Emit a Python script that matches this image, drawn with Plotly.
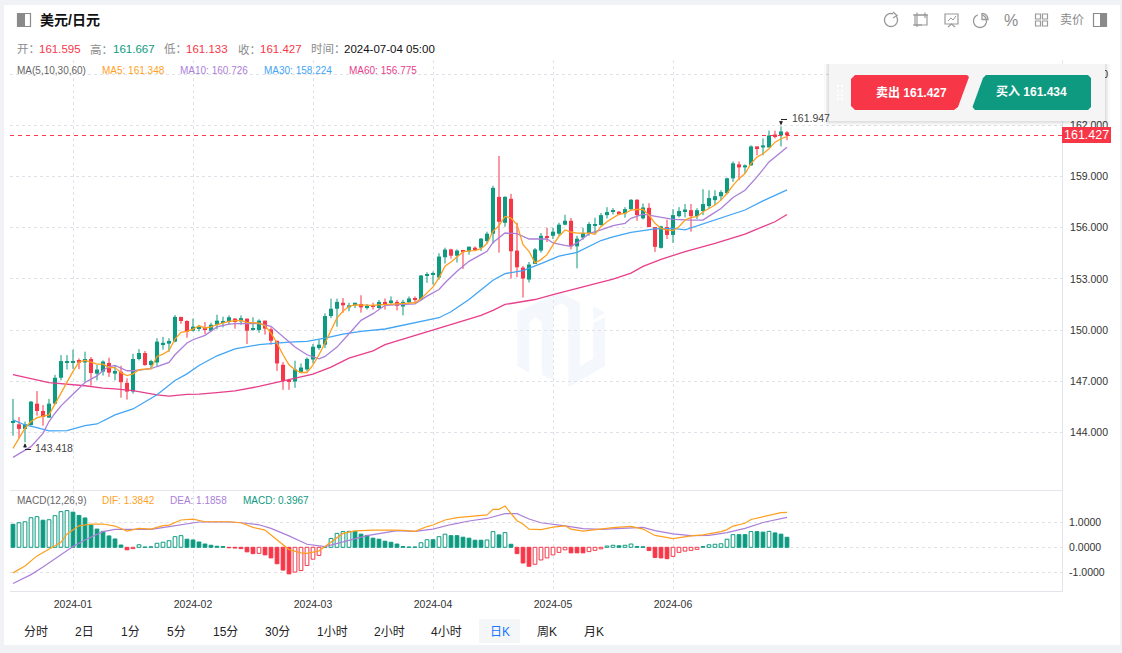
import math
import plotly.graph_objects as go

W, H = 1122, 653
RED = "#f73648"
GREEN = "#0d9a80"
ORANGE = "#ff9f1f"
PURPLE = "#ab7fd8"
BLUE = "#42a5f5"
PINK = "#e83e8c"
GRID = "#dfe2e8"
FONT = "Liberation Sans, Noto Sans CJK SC, sans-serif"

open_ = [144.57,144.47,144.2,144.43,145.68,145.25,144.86,145.68,147.2,148.1,
 148.1,148.24,148.1,148.3,147.44,147.56,148.07,147.44,147.56,146.9,
 146.39,148.3,148.65,147.95,148.1,149.18,149.2,149.32,150.77,150.53,
 149.96,150.1,150.1,149.96,150.31,150.45,150.47,150.67,150.51,150.67,
 150.04,150.0,150.55,150.04,149.37,147.96,147.06,146.98,147.49,147.69,
 148.27,148.94,149.14,150.82,151.25,151.6,151.33,151.45,151.53,151.29,
 151.45,151.29,151.65,151.62,151.65,151.38,151.62,151.85,151.77,153.19,
 153.27,153.08,154.27,154.73,154.36,154.66,154.62,154.83,154.83,155.22,
 155.65,157.81,156.29,157.7,154.66,153.66,152.96,153.88,154.66,155.5,
 155.53,155.65,156.18,156.41,154.91,155.42,155.69,156.14,156.16,156.74,
 156.94,156.94,156.84,157.09,157.64,156.55,157.17,156.04,154.82,156.04,
 155.58,156.68,156.96,157.03,156.68,156.98,157.27,157.62,157.85,158.03,
 158.9,159.72,159.54,159.66,160.77,160.71,160.71,161.47,161.41,161.595]
high = [145.96,144.9,144.63,145.84,146.42,145.6,145.96,147.37,148.53,148.53,
 148.85,148.34,148.73,148.42,147.95,148.22,148.38,147.95,147.9,147.17,
 148.61,148.88,148.77,148.26,149.52,149.6,149.52,150.88,150.77,150.57,
 150.67,150.3,150.47,150.43,150.9,150.78,150.86,150.7,150.86,150.67,
 150.75,150.63,150.55,150.16,149.37,148.12,147.14,148.2,148.04,148.39,
 149.18,149.43,150.98,151.84,151.84,151.88,151.6,151.6,152.04,151.53,
 151.6,151.76,151.85,151.97,151.77,151.77,151.97,151.97,153.23,153.39,
 153.43,154.5,154.83,154.77,154.73,154.7,154.89,154.91,155.4,155.77,
 158.46,160.21,157.85,157.99,156.29,153.76,153.99,154.81,155.69,156.0,
 156.0,156.29,156.76,156.57,155.53,156.0,156.33,156.59,156.86,157.21,
 157.15,156.98,157.21,157.68,157.68,157.42,157.44,156.04,156.12,156.47,
 157.09,157.21,157.39,157.39,157.15,158.26,158.2,158.2,158.2,158.94,
 159.89,159.89,159.72,160.83,160.77,161.24,161.7,161.7,161.947,161.667]
low = [143.8,143.65,143.418,144.39,144.98,144.39,144.86,145.64,147.05,147.68,
 147.72,147.7,146.97,146.74,147.05,147.33,147.25,147.05,146.03,145.92,
 146.27,148.22,147.9,147.77,147.9,148.85,148.73,149.28,150.37,149.55,
 149.92,149.92,149.76,149.92,150.04,150.16,150.31,150.08,150.31,149.18,
 149.96,149.84,149.73,149.14,147.6,146.49,146.49,146.61,147.47,147.57,
 148.04,148.84,148.94,150.7,150.2,151.02,151.1,151.29,151.02,151.2,
 151.2,151.25,151.2,151.5,151.15,150.86,151.58,151.62,151.73,152.77,
 152.67,152.96,153.9,154.19,153.96,153.58,154.42,154.64,154.64,155.1,
 155.07,154.54,156.06,153.02,153.1,151.91,152.79,153.88,154.54,155.16,
 155.34,155.53,156.14,154.73,153.62,155.3,155.53,155.63,156.12,156.55,
 156.78,156.74,156.59,157.03,156.41,156.49,156.04,154.58,154.78,155.34,
 155.11,156.61,156.61,155.77,156.51,156.74,157.13,157.33,157.62,157.97,
 158.69,158.79,159.19,159.62,160.25,160.25,160.71,161.24,160.77,161.133]
close = [144.61,144.2,144.47,145.8,145.25,144.9,145.68,147.2,148.18,148.15,
 148.15,148.08,148.3,147.48,147.68,148.15,147.5,147.6,146.94,146.39,
 148.3,148.65,147.95,148.18,149.32,149.24,149.36,150.77,150.53,149.9,
 150.2,150.14,150.05,150.31,150.55,150.49,150.75,150.47,150.7,149.96,
 150.08,150.55,150.08,149.37,148.04,147.0,146.98,147.69,147.8,148.31,
 149.02,149.14,150.82,151.25,151.65,151.45,151.45,151.6,151.33,151.41,
 151.37,151.65,151.54,151.73,151.42,151.65,151.85,151.81,153.2,153.23,
 153.31,154.31,154.72,154.36,154.66,154.62,154.89,154.75,155.36,155.65,
 158.34,156.35,157.81,154.62,153.68,153.02,153.84,154.73,155.53,155.44,
 155.77,156.18,156.41,154.91,155.36,155.69,156.22,156.2,156.74,156.92,
 156.98,156.78,157.09,157.64,156.74,157.19,156.04,154.88,156.08,155.58,
 156.74,156.98,157.07,156.68,157.03,157.39,157.74,157.85,158.09,158.9,
 159.78,159.54,159.66,160.77,160.67,160.83,161.41,161.37,161.65,161.427]

ma5_x = list(range(0,1))+list(range(2,5))+list(range(6,130))
ma5_val = [143.06,144.24,144.63,144.86,145.02,145.67,146.29,146.98,147.57,148.12,148.22,148.12,148.0,148.0,147.8,147.8,147.5,147.33,147.43,147.67,147.7,147.73,148.45,148.59,148.8,149.47,149.86,149.92,150.05,150.25,
 150.12,150.18,150.31,150.41,150.51,150.55,150.57,150.45,150.41,150.41,150.25,149.82,149.24,148.55,147.96,147.67,147.51,147.51,147.96,148.55,149.24,150.02,150.71,151.1,151.39,151.47,151.45,151.43,151.45,151.47,151.5,
 151.52,151.54,151.56,151.58,151.6,151.83,152.18,152.53,153.06,153.74,153.99,154.29,154.58,154.64,154.66,154.77,155.07,155.79,156.12,156.66,156.57,156.18,155.0,154.62,153.94,154.13,154.42,155.0,155.5,155.87,155.75,155.69,155.67,155.69,
 155.61,156.06,156.35,156.55,156.8,156.84,157.04,157.07,157.07,156.74,156.26,155.96,155.87,155.83,156.06,156.45,156.61,156.65,156.94,157.13,157.33,157.62,158.01,158.49,158.88,159.18,159.76,160.15,160.34,160.63,161.02,161.22,161.348]
ma10_x = [0,2,3,5,6,7,8,9,10,11,12,13,14,15,16,17,18,19,20,21,23,24,26,27,28,29,30,32,34,36,38,41,43,45,47,49,51,52,54,56,58,60,62,67,69,71,72,74,76,78,79,80,82,84,86,89,90,92,93,94,96,98,100,102,103,105,108,110,113,115,116,118,120,122,124,126,129]
ma10_val = [142.53,142.96,143.16,143.94,144.63,145.12,145.55,145.9,146.24,146.63,146.92,147.12,147.31,147.63,147.86,147.92,147.76,147.61,147.61,147.65,147.73,147.86,148.1,148.55,148.9,149.24,149.43,149.69,150.18,150.35,150.39,150.37,150.22,149.59,149.0,148.55,148.31,148.45,149.0,149.78,150.57,150.96,151.45,151.54,151.99,152.38,152.77,153.45,154.03,154.42,154.62,155.14,155.69,155.65,155.34,155.34,155.11,154.97,154.91,155.11,155.65,155.87,156.12,156.26,156.55,156.8,156.61,156.49,156.45,156.45,156.68,157.13,157.77,158.2,158.98,159.86,160.726]
ma30_x = [0,2,4,6,9,12,14,17,20,24,27,29,31,34,37,41,46,49,52,55,58,62,71,73,76,80,82,85,88,91,94,96,98,100,103,107,110,112,115,118,122,125,129]
ma30_val = [144.73,144.43,144.27,144.08,144.1,144.39,144.49,145.02,145.37,146.2,147.04,147.43,147.92,148.49,148.9,149.14,149.29,149.33,149.53,149.76,149.92,150.06,150.72,151.07,151.79,152.92,153.31,153.49,153.9,154.33,154.56,154.92,155.25,155.46,155.73,155.93,155.96,155.87,156.22,156.61,157.04,157.58,158.224]
ma60_x = [0,2,6,12,15,17,20,24,26,29,31,34,37,41,46,50,53,56,60,62,78,80,82,85,87,90,93,96,100,103,105,108,112,117,122,125,127,129]
ma60_val = [147.39,147.24,146.92,146.73,146.59,146.55,146.45,146.2,146.12,146.22,146.24,146.33,146.43,146.69,147.08,147.41,147.82,148.35,148.78,149.14,150.86,151.15,151.5,151.69,151.79,152.08,152.36,152.61,152.99,153.34,153.73,154.14,154.6,155.09,155.63,156.06,156.35,156.775]

macd_hist = [0.91,0.97,1.01,1.17,1.21,1.07,1.09,1.25,1.41,1.45,
 1.39,1.26,1.16,0.88,0.72,0.63,0.45,0.33,0.09,-0.1,
 -0.05,0.1,0.01,0.02,0.16,0.2,0.26,0.42,0.46,0.32,
 0.29,0.21,0.13,0.08,0.04,0.03,-0.02,-0.03,-0.05,-0.18,
 -0.25,-0.24,-0.3,-0.42,-0.65,-0.9,-1.05,-0.98,-0.92,-0.72,
 -0.47,-0.32,0.02,0.35,0.55,0.62,0.63,0.63,0.52,0.47,
 0.36,0.32,0.24,0.2,0.13,0.03,0.01,0.015,0.18,0.3,
 0.3,0.42,0.52,0.46,0.46,0.4,0.36,0.28,0.28,0.29,
 0.62,0.49,0.58,0.12,-0.25,-0.62,-0.75,-0.67,-0.5,-0.42,
 -0.3,-0.2,-0.1,-0.22,-0.22,-0.22,-0.17,-0.12,-0.06,0.05,
 0.08,0.06,0.08,0.13,0.03,0.02,-0.13,-0.4,-0.42,-0.45,
 -0.36,-0.2,-0.15,-0.12,-0.08,0.03,0.1,0.12,0.14,0.32,
 0.5,0.5,0.5,0.62,0.62,0.6,0.63,0.57,0.52,0.3967]
dif_x = [0,2,4,6,8,9,11,13,15,17,19,21,23,25,26,28,30,32,36,38,40,42,44,46,48,49,51,53,55,57,60,63,65,67,69,70,72,74,76,79,80,81,82,83,84,85,86,88,90,92,93,95,98,100,103,105,107,110,113,115,118,119,120,122,123,126,128,129]
dif_val = [-1.01,-0.74,-0.34,-0.08,0.2,0.53,0.85,0.92,0.92,0.84,0.64,0.75,0.72,0.86,0.88,1.08,1.11,1.01,1.01,0.97,0.79,0.68,0.3,-0.09,-0.22,-0.24,-0.14,0.21,0.55,0.65,0.68,0.68,0.67,0.63,0.82,0.88,1.08,1.17,1.22,1.28,1.5,1.5,1.63,1.36,1.05,0.92,0.72,0.7,0.8,0.85,0.72,0.64,0.72,0.78,0.83,0.72,0.47,0.34,0.45,0.49,0.62,0.7,0.84,0.95,1.1,1.28,1.37,1.3842]
dea_x = [0,3,5,8,10,12,15,17,20,23,26,31,36,38,41,43,46,49,52,54,57,59,64,67,70,73,76,79,82,84,86,88,92,95,98,103,105,107,110,113,116,119,122,125,129]
dea_val = [-1.43,-1.08,-0.78,-0.29,0.03,0.29,0.62,0.71,0.72,0.71,0.82,1.0,1.0,0.97,0.89,0.75,0.45,0.12,0.03,0.16,0.33,0.46,0.66,0.63,0.72,0.9,1.04,1.14,1.33,1.33,1.12,0.97,0.85,0.74,0.71,0.75,0.79,0.66,0.53,0.46,0.47,0.58,0.75,0.98,1.1858]

month_idx = [10,30,50,70,90,110]
month_lab = ["2024-01","2024-02","2024-03","2024-04","2024-05","2024-06"]
price_ticks = [144,147,150,153,156,159,162,165]
macd_ticks = [-1,0,1]
macd_tick_lab = ["-1.0000","0.0000","1.0000"]
periods = ["分时","2日","1分","5分","15分","30分","1小时","2小时","4小时","日K","周K","月K"]
period_x = [35.5,84,130,176,225,277,332,389,446,499.5,547,594]

idx = list(range(len(close)))
c_col = [GREEN if c >= o else RED for o, c in zip(open_, close)]

fig = go.Figure()
fig.add_trace(go.Bar(x=idx, base=low, y=[h-l for h, l in zip(high, low)], width=0.34,
                     marker=dict(color=c_col, line=dict(width=0)), opacity=0.5, xaxis="x", yaxis="y"))
fig.add_trace(go.Bar(x=idx, base=[min(o, c) for o, c in zip(open_, close)],
                     y=[max(abs(o-c), 0.07) for o, c in zip(open_, close)], width=0.68,
                     marker=dict(color=c_col, line=dict(width=0)), xaxis="x", yaxis="y"))
for xs, ys, col in [(ma60_x, ma60_val, PINK), (ma30_x, ma30_val, BLUE), (ma10_x, ma10_val, PURPLE), (ma5_x, ma5_val, ORANGE)]:
    fig.add_trace(go.Scatter(x=xs, y=ys, mode="lines", line=dict(color=col, width=1.3), xaxis="x", yaxis="y"))

m_line = [GREEN if v >= 0 else RED for v in macd_hist]
m_fill = [("#ffffff" if i > 0 and v > macd_hist[i-1] else m_line[i]) for i, v in enumerate(macd_hist)]
fig.add_trace(go.Bar(x=idx, y=macd_hist, width=0.62, marker=dict(color=m_fill, line=dict(color=m_line, width=1)),
                     xaxis="x2", yaxis="y2"))
fig.add_trace(go.Scatter(x=dea_x, y=dea_val, mode="lines", line=dict(color=PURPLE, width=1.2), xaxis="x2", yaxis="y2"))
fig.add_trace(go.Scatter(x=dif_x, y=dif_val, mode="lines", line=dict(color=ORANGE, width=1.2), xaxis="x2", yaxis="y2"))

px = lambda x: x / W
py = lambda y: 1 - y / H
shapes, ann = [], []

def poly(pts, fill=None, line=None, lw=1, close_path=True, layer="above"):
    d = "M " + " L ".join(f"{px(x):.5f},{py(y):.5f}" for x, y in pts) + (" Z" if close_path else "")
    shapes.append(dict(type="path", path=d, xref="paper", yref="paper", layer=layer,
                       fillcolor=fill or "rgba(0,0,0,0)",
                       line=dict(color=line or "rgba(0,0,0,0)", width=lw if line else 0)))

def rect(x0, y0, x1, y1, fill=None, line=None, lw=1, layer="above"):
    poly([(x0, y0), (x1, y0), (x1, y1), (x0, y1)], fill, line, lw, True, layer)

def arc(cx, cy, r, a0, a1, n=28):
    return [(cx + r*math.cos(math.radians(a0+(a1-a0)*k/n)), cy + r*math.sin(math.radians(a0+(a1-a0)*k/n))) for k in range(n+1)]

def txt(x, y, s, color="#333333", size=12, anchor="left", bold=False):
    if anchor == "left":
        x -= 1
    ann.append(dict(x=px(x), y=py(y), xref="paper", yref="paper", text=f"<b>{s}</b>" if bold else s, showarrow=False,
                    xanchor=anchor, yanchor="middle", borderpad=0, font=dict(family=FONT, size=size, color=color)))

# card and watermark
rect(4, 5, 1120, 645, fill="#ffffff", layer="below")
wm = lambda pts: [(500 + x/3, 290 + y/3) for x, y in pts]
WMC = "#f4f8fd"
poly(wm([(52,65),(160,15),(160,270),(125,255),(125,95),(107,82),(88,95),(88,248),(52,228)]), fill=WMC, layer="below")
poly(wm([(160,15),(185,10),(240,38),(240,228),(280,205),(280,100),(315,82),(315,228),(205,292),(205,55),(185,40),(160,52)]), fill=WMC, layer="below")
poly(wm([(280,48),(315,68),(280,90)]), fill=WMC, layer="below")

# header
rect(17.5, 13.5, 30.5, 26.5, line="#8a8a8a", lw=1.2)
rect(17.5, 13.5, 25, 26.5, fill="#8a8a8a")
txt(40, 20, "美元/日元", "#111111", 14, bold=True)
ICON = "#9a9a9a"
poly(arc(891, 20, 6.5, -35, 290), line=ICON, lw=1.3, close_path=False)
poly([(893, 12), (897, 15.5), (893, 18)], line=ICON, lw=1.3, close_path=False)
rect(915, 15, 927, 25, line=ICON, lw=1.2)
for a, b in [((917, 12.5), (917, 27)), ((925, 12.5), (925, 18)), ((913, 15), (928, 15)), ((913, 25), (922, 25))]:
    poly([a, b], line=ICON, lw=1.2, close_path=False)
rect(945, 14, 958, 24, line=ICON, lw=1.2)
poly([(948, 21), (951, 18), (953, 20), (956, 16)], line=ICON, lw=1, close_path=False)
poly([(948, 27), (951.5, 24), (955, 27)], line=ICON, lw=1.2, close_path=False)
poly(arc(980, 21, 6.5, -70, 250), line=ICON, lw=1.3, close_path=False)
poly([(982, 13)] + arc(982, 19.5, 6, -90, 0) + [(982, 19.5)], line=ICON, lw=1.3)
txt(1011, 20, "%", "#8a8a8a", 16, "center")
for gx, gy in [(1035.5, 14), (1042.5, 14), (1035.5, 21), (1042.5, 21)]:
    rect(gx, gy, gx+5, gy+5, line=ICON, lw=1.2)
txt(1072, 20, "卖价", "#8a8a8a", 12, "center")
rect(1093.5, 13.5, 1106.5, 26.5, line="#8a8a8a", lw=1.2)
rect(1100, 13.5, 1106.5, 26.5, fill="#8a8a8a")

# OHLC row
GR = "#8c8c8c"
for x, s, c in [(17,"开：",GR),(39,"161.595",RED),(90,"高：",GR),(113,"161.667",GREEN),(164,"低：",GR),(186,"161.133",RED),
                (238,"收：",GR),(260,"161.427",RED),(311,"时间：",GR),(344,"2024-07-04 05:00","#111111")]:
    txt(x, 49, s, c, 11.5)
for x, s, c in [(17,"MA(5,10,30,60)","#666666"),(102,"MA5: 161.348",ORANGE),(180,"MA10: 160.726",PURPLE),
                (264,"MA30: 158.224",BLUE),(349,"MA60: 156.775",PINK)]:
    txt(x, 71, s, c, 10)
for x, s, c in [(17,"MACD(12,26,9)","#666666"),(102,"DIF: 1.3842",ORANGE),(170,"DEA: 1.1858",PURPLE),(243,"MACD: 0.3967",GREEN)]:
    txt(x, 501, s, c, 10)

# last price line and tag
poly([(10, 135.5), (1062, 135.5)], line=RED, lw=1, close_path=False)
shapes[-1]["line"]["dash"] = "4px,4px"
rect(1062, 127, 1111, 143, fill=RED)
ann.append(dict(x=px(1086.5), y=close[-1], xref="paper", yref="y", text=f"{close[-1]:.3f}", showarrow=False,
                xanchor="center", yanchor="middle", borderpad=0, font=dict(family=FONT, size=12.5, color="#ffffff")))

# extreme markers
imax = high.index(max(high)); imin = low.index(min(low))
ann.append(dict(x=imax+1.6, y=max(high), xref="x", yref="y", text=f"{max(high):.3f}", showarrow=False, xanchor="left",
                yanchor="middle", yshift=8, borderpad=0, font=dict(family=FONT, size=10.5, color="#444444")))
ann.append(dict(x=imin+1.5, y=min(low), xref="x", yref="y", text=f"{min(low):.3f}", showarrow=False, xanchor="left",
                yanchor="middle", yshift=-6, borderpad=0, font=dict(family=FONT, size=10.5, color="#444444")))
ann.append(dict(x=imax, y=max(high), xref="x", yref="y", ax=0, ay=-7, axref="pixel", ayref="pixel", text="", showarrow=True,
                arrowhead=2, arrowsize=0.8, arrowwidth=1, arrowcolor="#222222", standoff=1))
ann.append(dict(x=imin, y=min(low), xref="x", yref="y", ax=0, ay=7, axref="pixel", ayref="pixel", text="", showarrow=True,
                arrowhead=2, arrowsize=0.8, arrowwidth=1, arrowcolor="#222222", standoff=1))
poly([(781, 119.5), (787, 119.5)], line="#222222", lw=1, close_path=False)
poly([(25, 449.5), (31, 449.5)], line="#222222", lw=1, close_path=False)

# period buttons
rect(479, 619, 520, 643, fill="#f5f6f8", layer="below")
for x, s in zip(period_x, periods):
    txt(x, 631.5, s, "#1677ff" if s == "日K" else "#222222", 12, "center")

# trade panel
for off, al in [(5, 0.025), (3, 0.04), (1.5, 0.06)]:
    rect(829-off, 64, 1105+off, 121+off, fill=f"rgba(0,0,0,{al})")
rect(829, 64, 1105, 121, fill="#f5f5f5")
poly([(851, 79), (855, 75), (967, 75), (969, 77), (958, 107), (954, 110), (855, 110), (851, 106)], fill=RED)
poly([(986, 75), (1088, 75), (1091, 78), (1091, 107), (1088, 110), (975, 110), (972.5, 107), (983, 78)], fill=GREEN)
txt(911, 92.5, "卖出 161.427", "#ffffff", 12, "center", bold=True)
txt(1031, 92.5, "买入 161.434", "#ffffff", 12, "center", bold=True)
for dx in (838, 842):
    for dy in (86, 90.5, 95, 99):
        rect(dx-1, dy-1, dx+1, dy+1, fill="#ffffff")

XR = [-0.5, 174.83]
LINE = "#e2e5ec"
TICKF = dict(size=10.5, color="#333333")
fig.update_layout(
    width=W, height=H, margin=dict(l=0, r=0, t=0, b=0), paper_bgcolor="#f0f2f5", plot_bgcolor="rgba(0,0,0,0)",
    barmode="overlay", showlegend=False, hovermode=False, shapes=shapes, annotations=ann,
    font=dict(family=FONT, size=12, color="#333333"),
    xaxis=dict(domain=[px(10), px(1062)], range=XR, anchor="y", tickvals=month_idx, ticktext=month_lab, showticklabels=False,
               showgrid=True, gridcolor=GRID, griddash="3px,3px", zeroline=False, showline=True, linecolor=LINE, ticks=""),
    yaxis=dict(domain=[py(490), py(60)], range=[140.616, 165.84], anchor="x", side="right", tickvals=price_ticks, tickformat=".3f",
               showgrid=True, gridcolor=GRID, griddash="3px,3px", zeroline=False, showline=True, linecolor=LINE, ticks="", ticklabelstandoff=5,
               tickfont=TICKF),
    xaxis2=dict(domain=[px(10), px(1062)], range=XR, anchor="y2", tickvals=month_idx, ticktext=month_lab,
                showgrid=True, gridcolor=GRID, griddash="3px,3px", zeroline=False, showline=True, linecolor=LINE, ticks="", ticklabelstandoff=3,
                tickfont=TICKF),
    yaxis2=dict(domain=[py(591), py(490)], range=[-1.727, 2.265], anchor="x2", side="right", tickvals=macd_ticks, ticktext=macd_tick_lab,
                showgrid=True, gridcolor=GRID, griddash="3px,3px", zeroline=False, showline=True, linecolor=LINE, ticks="", ticklabelstandoff=4,
                tickfont=TICKF),
)
fig.write_html("out.html", config={"displayModeBar": False},
               post_script="document.body.style.margin='0';document.body.style.overflow='hidden';")
